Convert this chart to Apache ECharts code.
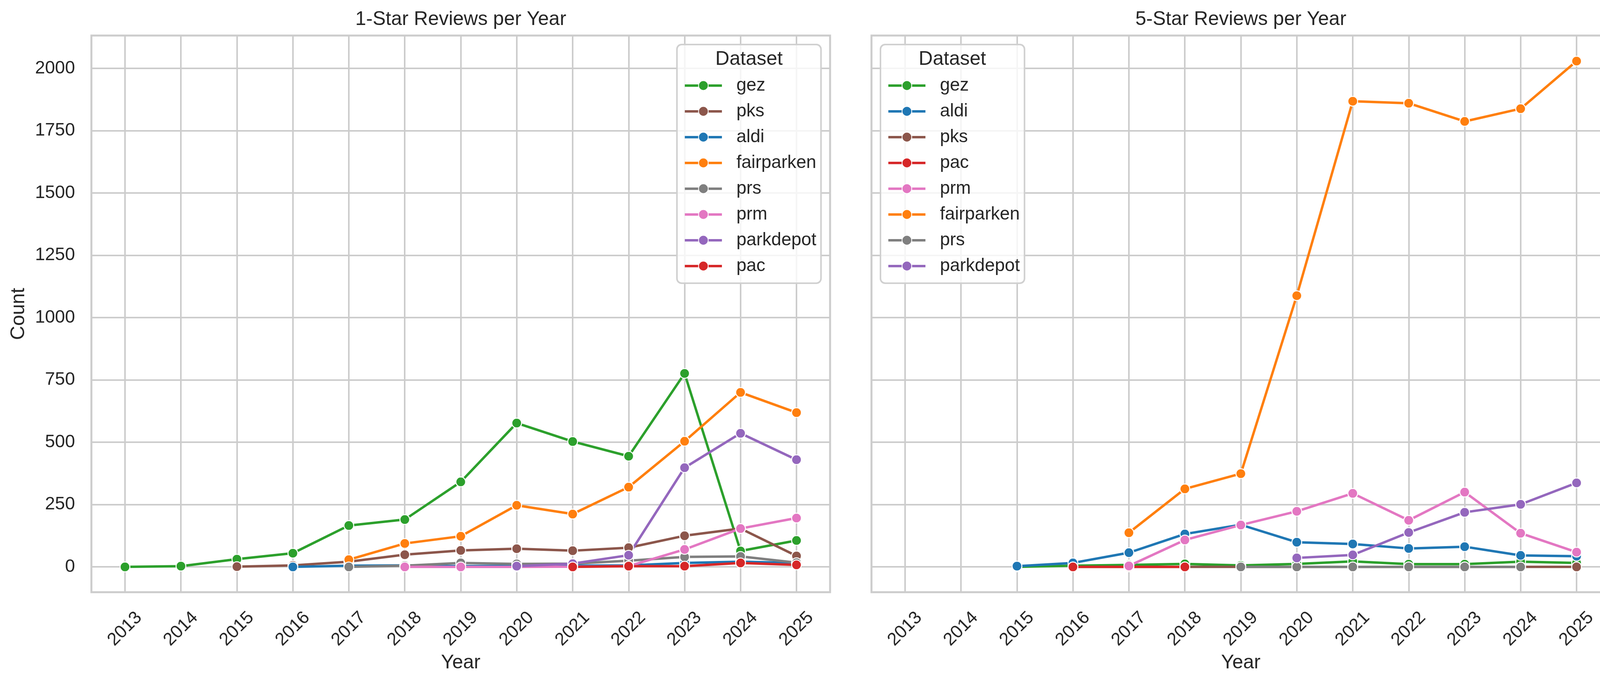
<!DOCTYPE html>
<html><head><meta charset="utf-8">
<script src="https://cdn.jsdelivr.net/npm/echarts@6/dist/echarts.min.js"></script>
<style>html,body{margin:0;padding:0;background:#fff}#c{width:4151px;height:1751px}</style>
</head><body><div id="c"></div>
<script>
// ---- data ----
const years = [2013,2014,2015,2016,2017,2018,2019,2020,2021,2022,2023,2024,2025];
const yTicks = [0,250,500,750,1000,1250,1500,1750,2000];

// 1-star (legend / draw order)
const oneStarNames = ['gez','pks','aldi','fairparken','prs','prm','parkdepot','pac'];
const oneGez        = [0,3,31,55,166,190,341,577,503,444,776,64,106];
const onePks        = [null,null,1,6,21,49,66,73,65,77,125,154,44];
const oneAldi       = [null,null,null,0,5,6,3,5,5,6,16,21,16];
const oneFairparken = [null,null,null,null,29,94,123,247,212,320,504,700,619];
const onePrs        = [null,null,null,null,0,5,16,12,13,25,40,42,17];
const onePrm        = [null,null,null,null,null,0,0,0,1,3,70,154,196];
const oneParkdepot  = [null,null,null,null,null,null,null,3,13,47,398,536,430];
const onePac        = [null,null,null,null,null,null,null,null,0,3,3,16,8];

// 5-star (legend / draw order)
const fiveStarNames = ['gez','aldi','pks','pac','prm','fairparken','prs','parkdepot'];
const fiveGez        = [null,null,0,5,8,12,6,12,22,11,11,21,16];
const fiveAldi       = [null,null,3,16,57,132,169,99,92,74,81,46,43];
const fivePks        = [null,null,null,0,0,0,0,0,0,0,0,0,0];
const fivePac        = [null,null,null,0,0,0,null,null,null,null,null,null,null];
const fivePrm        = [null,null,null,null,4,108,168,223,295,187,300,135,59];
const fiveFairparken = [null,null,null,null,137,313,374,1088,1868,1860,1787,1838,2029];
const fivePrs        = [null,null,null,null,null,null,0,0,0,0,0,0,null];
const fiveParkdepot  = [null,null,null,null,null,null,null,36,48,138,219,251,337];

const oneStarValues = {gez:oneGez,pks:onePks,aldi:oneAldi,fairparken:oneFairparken,prs:onePrs,prm:onePrm,parkdepot:oneParkdepot,pac:onePac};
const fiveStarValues = {gez:fiveGez,aldi:fiveAldi,pks:fivePks,pac:fivePac,prm:fivePrm,fairparken:fiveFairparken,prs:fivePrs,parkdepot:fiveParkdepot};

const colors = {gez:'#2ca02c',pks:'#8c564b',aldi:'#1f77b4',fairparken:'#ff7f0e',prs:'#7f7f7f',prm:'#e377c2',parkdepot:'#9467bd',pac:'#d62728'};

// ---- chart ----
const FONT = 'Liberation Sans, Arial, sans-serif';
const TXT = '#262626';
const GRIDC = '#cccccc';

function makeSeries(names, values, idx){
  return names.map(n => ({
    name: n, type: 'line', xAxisIndex: idx, yAxisIndex: idx,
    data: years.map((y,i) => [y, values[n][i]]).filter(d => d[1] !== null),
    symbol: 'circle', symbolSize: 25, showSymbol: true, showAllSymbol: true,
    lineStyle: {color: colors[n], width: 6.25},
    itemStyle: {color: colors[n], borderColor: '#ffffff', borderWidth: 2.5},
    emphasis: {disabled: true}, animation: false
  }));
}

function xAxis(idx){
  return {
    type: 'value', gridIndex: idx, min: 2012.4, max: 2025.6,
    axisLine: {show: false},
    axisTick: {show: false, customValues: years},
    axisLabel: {customValues: years, rotate: 45, align: 'center', verticalAlign: 'middle', margin: 94,
      fontSize: 46, color: TXT, fontFamily: FONT, formatter: v => String(v)},
    splitLine: {show: true, lineStyle: {color: GRIDC, width: 4}},
    name: 'Year', nameLocation: 'middle', nameGap: 156, nameMoveOverlap: false,
    nameTextStyle: {fontSize: 50, color: TXT, fontFamily: FONT}
  };
}
function yAxis(idx){
  const ax = {
    type: 'value', gridIndex: idx, min: -101.5, max: 2131.5,
    axisLine: {show: false},
    axisTick: {show: false, customValues: yTicks},
    axisLabel: {show: idx === 0, customValues: yTicks, margin: 42,
      fontSize: 46, color: TXT, fontFamily: FONT, formatter: v => String(v)},
    splitLine: {show: true, lineStyle: {color: GRIDC, width: 4}}
  };
  if (idx === 0) {
    ax.name = 'Count'; ax.nameLocation = 'middle'; ax.nameGap = 161; ax.nameRotate = 90;
    ax.nameMoveOverlap = false;
    ax.nameTextStyle = {fontSize: 50, color: TXT, fontFamily: FONT};
  }
  return ax;
}
function legend(names, left){
  return {
    data: names, orient: 'vertical', left: left, top: 114,
    padding: [82, 12, 21, 17], itemGap: 20, itemWidth: 95, itemHeight: 31,
    backgroundColor: 'rgba(255,255,255,0.8)', borderColor: '#d0d0d0', borderWidth: 4, borderRadius: 12,
    selectedMode: false, lineStyle: {width: 6.25},
    textStyle: {fontSize: 46, color: TXT, fontFamily: FONT, padding: [0,0,0,32]}
  };
}
function title(text, cx, top){
  return {text: text, left: cx, top: top, textAlign: 'center', padding: 0,
    textStyle: {fontSize: 50, fontWeight: 'normal', color: TXT, fontFamily: FONT}};
}

const chart = echarts.init(document.getElementById('c'), null, {renderer: 'canvas'});
chart.setOption({
  animation: false,
  backgroundColor: '#ffffff',
  textStyle: {fontFamily: FONT},
  title: [
    title('1-Star Reviews per Year', 1179.5, 25),
    title('5-Star Reviews per Year', 3176.5, 25),
    title('Dataset', 1917.5, 127),
    title('Dataset', 2438, 127)
  ],
  grid: [
    {left: 234, top: 91, width: 1891, height: 1425, show: true, borderColor: GRIDC, borderWidth: 5, backgroundColor: 'transparent'},
    {left: 2231, top: 91, width: 1891, height: 1425, show: true, borderColor: GRIDC, borderWidth: 5, backgroundColor: 'transparent'}
  ],
  xAxis: [xAxis(0), xAxis(1)],
  yAxis: [yAxis(0), yAxis(1)],
  legend: [legend(oneStarNames, 1733), legend(fiveStarNames, 2254)],
  series: makeSeries(oneStarNames, oneStarValues, 0).concat(makeSeries(fiveStarNames, fiveStarValues, 1))
});
</script></body></html>
